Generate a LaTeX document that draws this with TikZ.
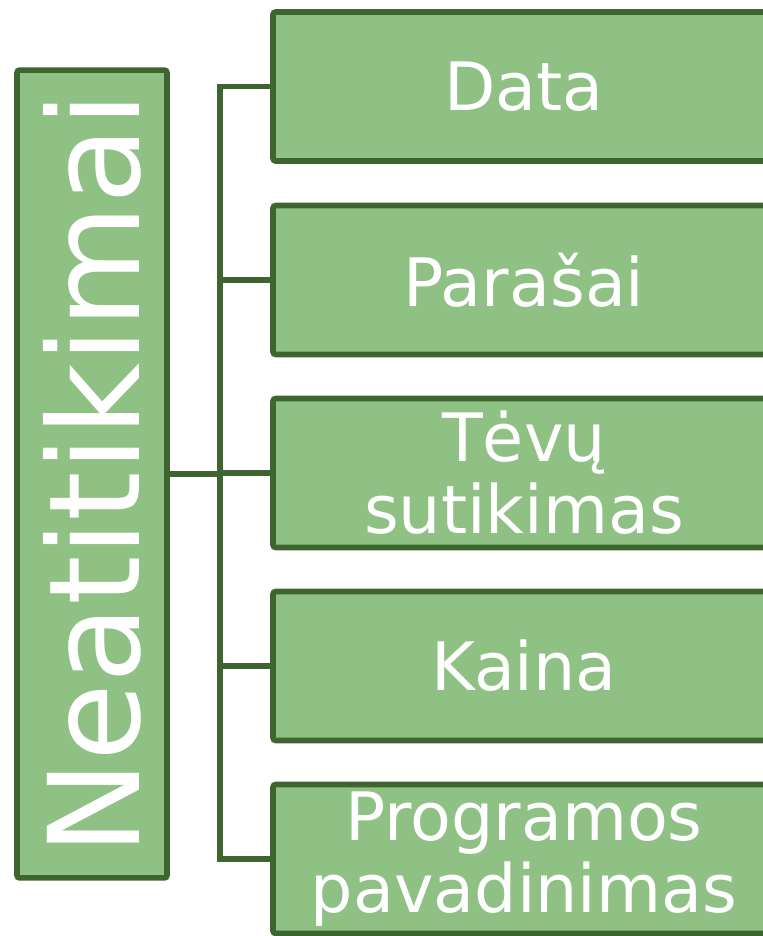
\documentclass[tikz,border=0pt]{standalone}
\usepackage{fontspec}
\setmainfont{DejaVu Sans}
\definecolor{boxfill}{RGB}{143,192,132}
\definecolor{boxline}{RGB}{62,101,48}
\tikzset{
  item/.style={draw=boxline, fill=boxfill, line width=3.2pt, rounded corners=1.5pt, text=white,
    minimum width=10.04cm, minimum height=2.98cm, inner sep=0pt, align=center,
    font=\fontsize{38}{41}\selectfont},
  headbox/.style={item, rotate=90, minimum width=16.16cm, minimum height=3cm,
    font=\fontsize{72}{80}\selectfont},
  link/.style={draw=boxline, line width=3.2pt, line cap=rect}
}

\begin{document}
\begin{tikzpicture}[x=0.02cm, y=-0.02cm]
            \useasboundingbox (0,0) rectangle (763,936);
            \clip (0,0) rectangle (763,936);
            \node[headbox] (neat) at (92,474) {Neatitikimai};
            \node[item] (data) at (524,86.5) {Data};
            \node[item] (parasai) at (524,280) {Parašai};
            \node[item] (tevu) at (524,473) {Tėvų\\sutikimas};
            \node[item] (kaina) at (524,666) {Kaina};
            \node[item] (prog) at (524,859) {Programos\\pavadinimas};
            % bus between the title and the boxes
            \coordinate (bus) at (220,474);
            \draw[link] (neat.south) -- (bus);
            \draw[link] (bus |- data.west) -- (bus |- prog.west);
            \draw[link] (bus |- data.west) -- (data.west);
            \draw[link] (bus |- parasai.west) -- (parasai.west);
            \draw[link] (bus |- tevu.west) -- (tevu.west);
            \draw[link] (bus |- kaina.west) -- (kaina.west);
            \draw[link] (bus |- prog.west) -- (prog.west);
        \end{tikzpicture}
\end{document}
